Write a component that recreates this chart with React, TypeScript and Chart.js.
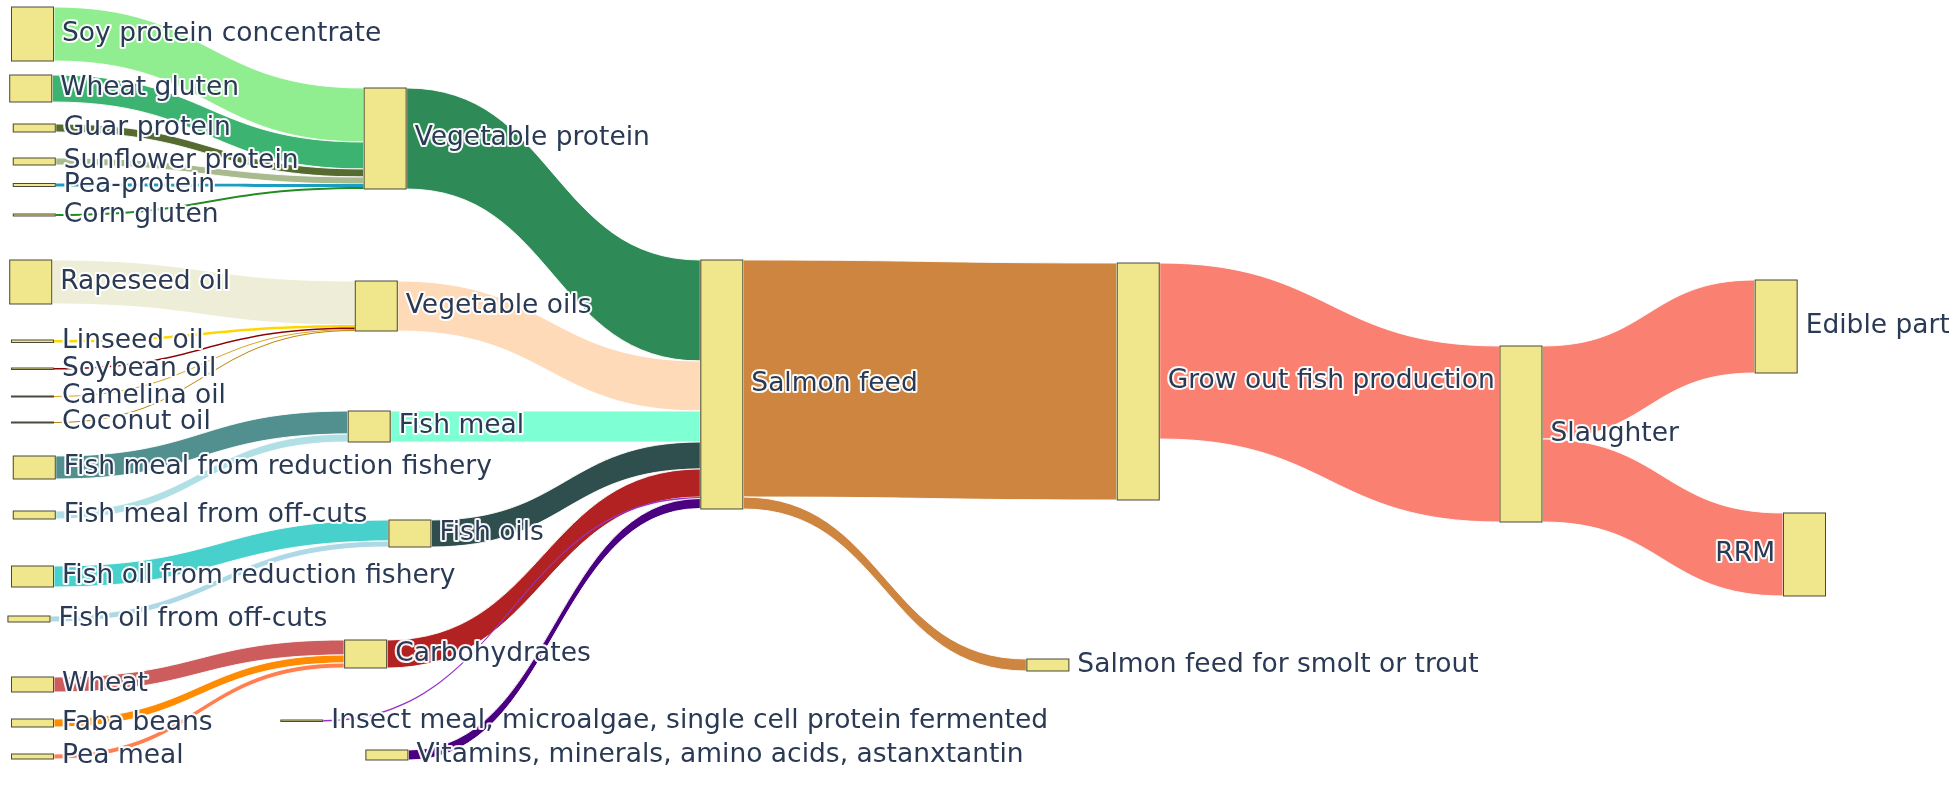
import React, { useEffect, useRef } from "react";
import { Chart, registerables } from "chart.js";

Chart.register(...registerables);

// ---------- DATA ----------
const nodeLabels: string[] = [
  "Soy protein concentrate", // 0
  "Wheat gluten", // 1
  "Guar protein", // 2
  "Sunflower protein", // 3
  "Pea-protein", // 4
  "Corn gluten", // 5
  "Vegetable protein", // 6
  "Rapeseed oil", // 7
  "Linseed oil", // 8
  "Soybean oil", // 9
  "Camelina oil", // 10
  "Coconut oil", // 11
  "Vegetable oils", // 12
  "Fish meal from reduction fishery", // 13
  "Fish meal from off-cuts", // 14
  "Fish meal", // 15
  "Fish oil from reduction fishery", // 16
  "Fish oil from off-cuts", // 17
  "Fish oils", // 18
  "Wheat", // 19
  "Faba beans", // 20
  "Pea meal", // 21
  "Carbohydrates", // 22
  "Insect meal, microalgae, single cell protein fermented", // 23
  "Vitamins, minerals, amino acids, astanxtantin", // 24
  "Salmon feed", // 25
  "Grow out fish production", // 26
  "Salmon feed for smolt or trout", // 27
  "Slaughter", // 28
  "Edible part", // 29
  "RRM", // 30
];

// node arrangement (like plotly node.x / node.y): column fraction, top in flow units
const nodeX: number[] = [
  0, -0.001, 0.001, 0.001, 0.001, 0.001, 0.199,
  -0.001, 0, 0, 0, 0, 0.194,
  0.001, 0.001, 0.19,
  0, -0.002, 0.213,
  0, 0, 0, 0.188,
  0.152, 0.2,
  0.389, 0.624, 0.573, 0.84, 0.984, 1.0,
];
const nodeY: number[] = [
  7, 75, 124, 158, 183.5, 214, 88,
  260, 340, 368, 396, 422, 281,
  456, 511, 411,
  566, 616, 520,
  677, 719, 754, 640,
  720, 750,
  260, 263, 659, 346, 280, 513,
];

const linkSource: number[] = [
  0, 1, 2, 3, 4, 5,
  7, 8, 9, 10, 11,
  13, 14,
  16, 17,
  19, 20, 21,
  6, 12, 15, 18, 22, 23, 24,
  25, 25, 26, 28, 28,
];
const linkTarget: number[] = [
  6, 6, 6, 6, 6, 6,
  12, 12, 12, 12, 12,
  15, 15,
  18, 18,
  22, 22, 22,
  25, 25, 25, 25, 25, 25, 25,
  26, 27, 28, 29, 30,
];
const linkValue: number[] = [
  54, 27, 8, 7, 3, 2,
  44, 2.5, 1.5, 1, 1,
  23, 8,
  21, 6,
  15, 8, 5,
  101, 50, 31, 27, 28, 1.5, 10,
  237, 12, 176, 93, 83,
];

// ---------- STYLES ----------
const linkColors: string[] = [
  "#90EE90", "#3CB371", "#556B2F", "#A9BA8E", "#1C9DC2", "#228B22",
  "#EEEED8", "#FFD700", "#8B0000", "#DAA520", "#B8860B",
  "#528F8F", "#B0E0E6",
  "#48D1CC", "#ADD8E6",
  "#CD5C5C", "#FF8C00", "#FF7F50",
  "#2E8B57", "#FFDAB9", "#7FFFD4", "#2F4F4F", "#B22222", "#9932CC", "#4B0082",
  "#CD853F", "#CD853F", "#FA8072", "#FA8072", "#FA8072",
];
const NODE_WIDTH = 43;
const NODE_FILL = "#F0E68C";
const NODE_STROKE = "#4a4a3a";
const LABEL_FONT = '26.5px "DejaVu Sans"';
const LABEL_COLOR = "#2A3A55";
const LABEL_GAP = 8;

const sankeyPlugin = {
  id: "sankeyDraw",
  afterDatasetsDraw(chart: any) {
    const ctx: CanvasRenderingContext2D = chart.ctx;
    const xs = chart.scales.x;
    const ys = chart.scales.y;
    const n = nodeLabels.length;
    const inSum = new Array(n).fill(0);
    const outSum = new Array(n).fill(0);
    linkValue.forEach((v, l) => {
      outSum[linkSource[l]] += v;
      inSum[linkTarget[l]] += v;
    });
    const nodeVal = (i: number) => Math.max(inSum[i], outSum[i]);
    const center = (i: number) => nodeY[i] + nodeVal(i) / 2;
    const left = (i: number) => xs.getPixelForValue(nodeX[i]);
    const top = (i: number) => ys.getPixelForValue(nodeY[i]);
    const bottom = (i: number) => ys.getPixelForValue(nodeY[i] + nodeVal(i));
    const thick = (v: number) => Math.abs(ys.getPixelForValue(v) - ys.getPixelForValue(0));

    const sy: number[] = new Array(linkValue.length).fill(0);
    const ty: number[] = new Array(linkValue.length).fill(0);
    for (let i = 0; i < n; i++) {
      const outs = linkValue.map((_, l) => l).filter((l) => linkSource[l] === i)
        .sort((a, b) => center(linkTarget[a]) - center(linkTarget[b]));
      let off = top(i);
      outs.forEach((l) => { sy[l] = off; off += thick(linkValue[l]); });
      const ins = linkValue.map((_, l) => l).filter((l) => linkTarget[l] === i)
        .sort((a, b) => center(linkSource[a]) - center(linkSource[b]));
      off = top(i);
      ins.forEach((l) => { ty[l] = off; off += thick(linkValue[l]); });
    }

    ctx.save();
    // links
    linkValue.forEach((v, l) => {
      const s = linkSource[l];
      const t = linkTarget[l];
      const x0 = left(s) + NODE_WIDTH;
      const x1 = left(t);
      const w = thick(v);
      const xm = (x0 + x1) / 2;
      ctx.beginPath();
      ctx.moveTo(x0, sy[l]);
      ctx.bezierCurveTo(xm, sy[l], xm, ty[l], x1, ty[l]);
      ctx.lineTo(x1, ty[l] + w);
      ctx.bezierCurveTo(xm, ty[l] + w, xm, sy[l] + w, x0, sy[l] + w);
      ctx.closePath();
      ctx.fillStyle = linkColors[l];
      ctx.fill();
      if (w > 4) {
        ctx.strokeStyle = "rgba(255,255,255,0.9)";
        ctx.lineWidth = 1;
        ctx.stroke();
      }
    });
    // nodes
    for (let i = 0; i < n; i++) {
      const x = left(i);
      const y0 = top(i);
      const h = Math.max(bottom(i) - y0, 1);
      ctx.fillStyle = NODE_FILL;
      ctx.fillRect(x, y0, NODE_WIDTH, h);
      ctx.strokeStyle = NODE_STROKE;
      ctx.lineWidth = 1;
      ctx.strokeRect(x + 0.5, y0, NODE_WIDTH - 1, h);
    }
    // labels
    ctx.font = LABEL_FONT;
    ctx.textBaseline = "middle";
    ctx.lineJoin = "round";
    for (let i = 0; i < n; i++) {
      const onLeft = nodeX[i] >= 1;
      const yc = ys.getPixelForValue(center(i));
      const x = onLeft ? left(i) - LABEL_GAP : left(i) + NODE_WIDTH + LABEL_GAP;
      ctx.textAlign = onLeft ? "right" : "left";
      ctx.strokeStyle = "rgba(255,255,255,0.95)";
      ctx.lineWidth = 4;
      ctx.strokeText(nodeLabels[i], x, yc);
      ctx.fillStyle = LABEL_COLOR;
      ctx.fillText(nodeLabels[i], x, yc);
    }
    ctx.restore();
  },
};

export default function App() {
  const canvasRef = useRef<HTMLCanvasElement | null>(null);
  useEffect(() => {
    if (!canvasRef.current) return;
    const chart = new Chart(canvasRef.current, {
      type: "scatter",
      data: {
        datasets: [
          {
            data: nodeLabels.map((_, i) => ({ x: nodeX[i], y: nodeY[i] })),
            pointRadius: 0,
            showLine: false,
          },
        ],
      },
      options: {
        animation: false,
        responsive: false,
        devicePixelRatio: 1,
        layout: { padding: { left: 11, right: 166, top: 0, bottom: 0 } },
        plugins: { legend: { display: false }, tooltip: { enabled: false } },
        events: [],
        scales: {
          x: { type: "linear", min: 0, max: 1, display: false },
          y: { type: "linear", min: 0, max: 785, reverse: true, display: false },
        },
      },
      plugins: [sankeyPlugin],
    });
    return () => chart.destroy();
  }, []);
  return (
    <div style={{ position: "fixed", left: 0, top: 0, width: 1949, height: 785, background: "#fff" }}>
      <canvas ref={canvasRef} width={1949} height={785} style={{ display: "block" }} />
    </div>
  );
}
